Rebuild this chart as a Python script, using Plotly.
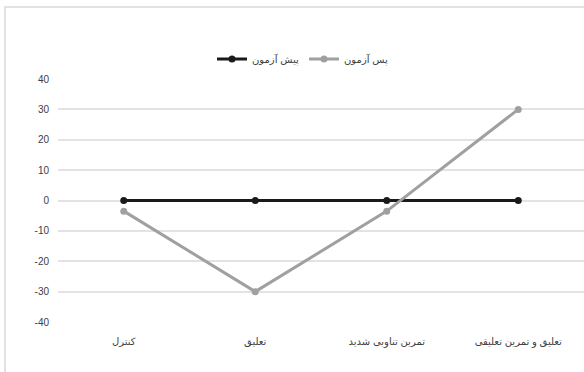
import plotly.graph_objects as go

categories = ["کنترل", "تعلیق", "تمرین تناوبی شدید", "تعلیق و تمرین تعلیقی"]
pretest = [0, 0, 0, 0]
posttest = [-3.5, -30, -3.5, 30]
y_ticks = [-40, -30, -20, -10, 0, 10, 20, 30, 40]
y_tick_labels = [str(v) for v in y_ticks]

W, H = 584, 372
L, R, T, B = 58, 0, 79, 50
pw = W - L - R
ph = H - T - B

fig = go.Figure()
fig.add_trace(go.Scatter(
    x=categories, y=pretest, name="پیش آزمون", mode="lines+markers",
    line=dict(color="#1a1a1a", width=3), marker=dict(size=7, color="#1a1a1a")))
fig.add_trace(go.Scatter(
    x=categories, y=posttest, name="پس آزمون", mode="lines+markers",
    line=dict(color="#a0a0a0", width=3), marker=dict(size=7, color="#a0a0a0")))

fig.update_layout(
    width=W, height=H,
    margin=dict(l=L, r=R, t=T, b=B),
    paper_bgcolor="white", plot_bgcolor="white",
    font=dict(family="Arial, Liberation Sans, DejaVu Sans", size=10, color="#404040"),
    showlegend=True,
    legend=dict(orientation="h", x=(303 - L) / pw, xanchor="center",
                y=1 + (79 - 59) / ph, yanchor="middle",
                font=dict(size=10, color="#404040"), itemwidth=30,
                bgcolor="rgba(0,0,0,0)"),
    xaxis=dict(type="category", range=[-0.5, 3.5], showgrid=False, zeroline=False,
               showline=False, ticks="", ticklabelstandoff=12,
               tickfont=dict(size=10, color="#404040")),
    yaxis=dict(range=[-40, 40], tickvals=y_ticks, ticktext=y_tick_labels, showgrid=True,
               gridcolor="#e3e3e3", gridwidth=2, zeroline=False, showline=False,
               ticks="", ticklabelstandoff=8, tickfont=dict(size=10, color="#404040")),
    shapes=[dict(type="rect", xref="paper", yref="paper",
                 x0=(5 - L) / pw, x1=(W + 10 - L) / pw,
                 y0=-(B + 10) / ph, y1=1 + (T - 7) / ph,
                 line=dict(color="#d9d9d9", width=1.5), layer="below")],
)

fig.write_html("out.html")
